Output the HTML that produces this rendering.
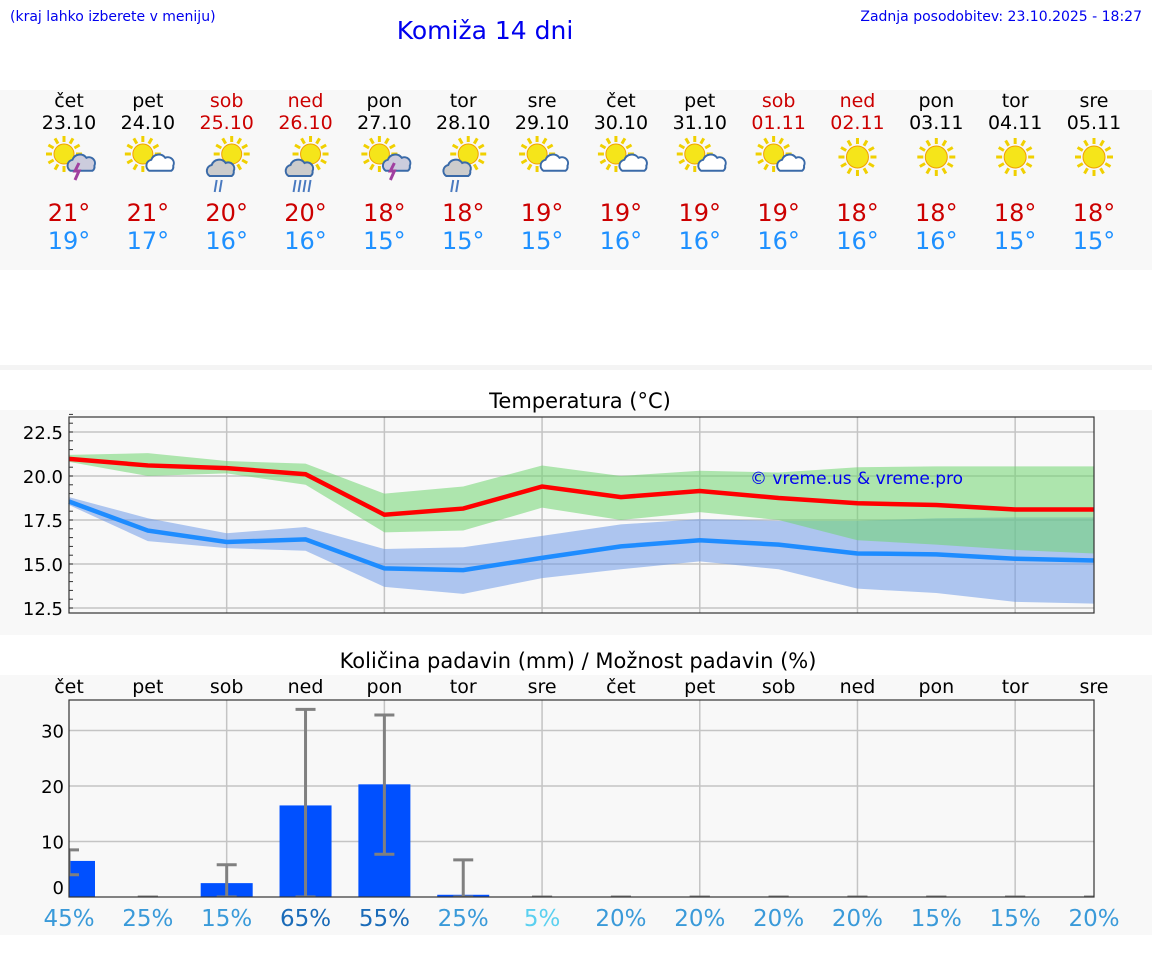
<!DOCTYPE html>
<html><head><meta charset="utf-8">
<style>
body{margin:0;background:#fff;font-family:"DejaVu Sans","Liberation Sans",sans-serif;}
svg{display:block}
</style></head>
<body>
<svg id="root" width="1152" height="975" xmlns="http://www.w3.org/2000/svg" font-family="DejaVu Sans, Liberation Sans, sans-serif">
<rect x="0" y="0" width="1152" height="975" fill="#fff"/>
<text x="10" y="21" font-size="14" fill="#0000ee">(kraj lahko izberete v meniju)</text>
<text x="485" y="39" font-size="25" fill="#0000ee" text-anchor="middle">Komiža 14 dni</text>
<text x="1142" y="21" font-size="14" fill="#0000ee" text-anchor="end">Zadnja posodobitev: 23.10.2025 - 18:27</text>
<rect x="0" y="90" width="1152" height="180" fill="#f8f8f8"/>
<rect x="0" y="365" width="1152" height="5" fill="#f4f4f4"/>
<rect x="0" y="410" width="1152" height="225" fill="#f8f8f8"/>
<rect x="0" y="675" width="1152" height="260" fill="#f8f8f8"/>
<text x="580" y="408" font-size="21" text-anchor="middle" fill="#000">Temperatura (°C)</text>
<text x="578" y="668" font-size="21" text-anchor="middle" fill="#000">Količina padavin (mm) / Možnost padavin (%)</text>
<g id="summary"></g>
<g id="temp"></g>
<g id="prec"></g>
</svg>
<script>
const days=["čet","pet","sob","ned","pon","tor","sre","čet","pet","sob","ned","pon","tor","sre"];
const dates=["23.10","24.10","25.10","26.10","27.10","28.10","29.10","30.10","31.10","01.11","02.11","03.11","04.11","05.11"];
const weekend=[0,0,1,1,0,0,0,0,0,1,1,0,0,0];
const icons=["storm","cloud","rain","rain2","storm","rain","cloud","cloud","cloud","cloud","sun","sun","sun","sun"];
const hiLabels=[21,21,20,20,18,18,19,19,19,19,18,18,18,18];
const loLabels=[19,17,16,16,15,15,15,16,16,16,16,16,15,15];
const tMax=[20.97,20.6,20.45,20.1,17.8,18.15,19.4,18.8,19.15,18.75,18.45,18.35,18.1,18.1];
const tMaxHi=[21.2,21.3,20.85,20.7,19.0,19.4,20.6,20.0,20.3,20.2,20.5,20.55,20.55,20.55];
const tMaxLo=[20.8,20.0,20.15,19.5,16.8,16.9,18.2,17.5,17.95,17.5,16.35,16.1,15.8,15.6];
const tMin=[18.55,16.9,16.25,16.4,14.75,14.65,15.35,16.0,16.35,16.1,15.6,15.55,15.3,15.2];
const tMinHi=[18.8,17.6,16.75,17.1,15.85,15.95,16.6,17.25,17.55,17.45,17.45,17.6,17.65,17.65];
const tMinLo=[18.35,16.3,15.9,15.75,13.7,13.3,14.2,14.7,15.15,14.7,13.6,13.35,12.85,12.75];
const tTicks=[12.5,15.0,17.5,20.0,22.5];
const precip=[6.5,0,2.5,16.5,20.3,0.4,0,0,0,0,0,0,0,0];
const errLo=[4,0,0,0,7.7,0,0,0,0,0,0,0,0,0];
const errHi=[8.5,0,5.8,33.8,32.8,6.7,0,0,0,0,0,0,0,0];
const chance=[45,25,15,65,55,25,5,20,20,20,20,15,15,20];
const pTicks=[0,10,20,30];

const NS="http://www.w3.org/2000/svg";
function mk(parent,tag,attrs,text){const e=document.createElementNS(NS,tag);for(const k in attrs)e.setAttribute(k,attrs[k]);if(text!==undefined)e.textContent=text;parent.appendChild(e);return e;}
const X0=69,X1=1094;
const xAt=i=>X0+(X1-X0)*i/13;
const sg=document.getElementById('summary');
function sun(g,cx,cy,r){for(let a=0;a<12;a++){const t=a*Math.PI/6;mk(g,'line',{x1:cx+Math.cos(t)*(r+2),y1:cy+Math.sin(t)*(r+2),x2:cx+Math.cos(t)*(r+8),y2:cy+Math.sin(t)*(r+8),stroke:'#f0d000','stroke-width':3});}
mk(g,'circle',{cx,cy,r,fill:'#f5e51a',stroke:'#f0a000','stroke-width':1});}
function cloud(g,cx,cy,s,fill){mk(g,'path',{d:`M${cx-12*s} ${cy+6*s} a6 6 0 0 1 2 -11 a8 8 0 0 1 14 -2 a6 6 0 0 1 8 8 a5 5 0 0 1 -2 5 z`,fill,stroke:'#3a6aa8','stroke-width':2});}
days.forEach((d,i)=>{
 const x=xAt(i);const col=weekend[i]?'#cc0000':'#000';
 const t1=mk(sg,'text',{x,y:107,'font-size':19,'text-anchor':'middle',fill:col},d);
 
 const t2=mk(sg,'text',{x,y:129,'font-size':19,'text-anchor':'middle',fill:col},dates[i]);
 
 const g=mk(sg,'g',{});
 const ic=icons[i];
 if(ic==='sun'){sun(g,x,157,11);}
 else if(ic==='cloud'){sun(g,x-5,154,10);cloud(g,x+11,166,0.8,'#fff');}
 else if(ic==='storm'){sun(g,x-5,154,10);cloud(g,x+11,166,0.8,'#ccd');mk(g,'path',{d:`M${x+10} ${163} l-4 8 h4 l-4 9`,stroke:'#a040a0','stroke-width':3,fill:'none'});}
 else {sun(g,x+5,154,10);cloud(g,x-5,170,1,'#ccc');const n=ic==='rain2'?4:2;for(let k=0;k<n;k++)mk(g,'line',{x1:x-10+k*5,y1:180,x2:x-12+k*5,y2:192,stroke:'#4a7ac0','stroke-width':2});}
 const h=mk(sg,'text',{x,y:221,'font-size':24,'text-anchor':'middle',fill:'#cc0000'},hiLabels[i]+'°');
 
 const l=mk(sg,'text',{x,y:249,'font-size':24,'text-anchor':'middle',fill:'#1e90ff'},loLabels[i]+'°');
 
});
const tg=document.getElementById('temp');
const TY0=417,TY1=613;
const tY=v=>476-(v-20)*(44/2.5);
mk(tg,'rect',{x:X0,y:TY0,width:X1-X0,height:TY1-TY0,fill:'#f8f8f8'});
for(let i=2;i<14;i+=2)mk(tg,'line',{x1:xAt(i),y1:TY0,x2:xAt(i),y2:TY1,stroke:'#c4c4c4','stroke-width':1.5});
tTicks.forEach(v=>{mk(tg,'line',{x1:X0,y1:tY(v),x2:X1,y2:tY(v),stroke:'#c4c4c4','stroke-width':1.5});
 const t=mk(tg,'text',{x:63,y:tY(v)+7,'font-size':18,'text-anchor':'end',fill:'#000'},v.toFixed(1));
 });
for(let v=12.5;v<=23.5;v+=0.5)mk(tg,'line',{x1:X0,y1:tY(v),x2:X0+4,y2:tY(v),stroke:'#333','stroke-width':1});
function band(hi,lo,fill,name){let d='';hi.forEach((v,i)=>d+=(i?'L':'M')+xAt(i)+' '+tY(v));for(let i=lo.length-1;i>=0;i--)d+='L'+xAt(i)+' '+tY(lo[i]);
 const p=mk(tg,'path',{d:d+'Z',fill,'fill-opacity':0.55});}
band(tMinHi,tMinLo,'#6f9ae8','min-temp-range');
band(tMaxHi,tMaxLo,'#6fd66f','max-temp-range');
function line(vals,col,name){const p=mk(tg,'polyline',{points:vals.map((v,i)=>xAt(i)+','+tY(v)).join(' '),fill:'none',stroke:col,'stroke-width':4.5});}
line(tMax,'#ff0000','max-temp-line');
line(tMin,'#1e8cff','min-temp-line');
const wm=mk(tg,'text',{x:750,y:484,'font-size':17,fill:'#0000ee'},'© vreme.us & vreme.pro');

mk(tg,'rect',{x:X0,y:TY0,width:X1-X0,height:TY1-TY0,fill:'none',stroke:'#333','stroke-width':1.2});
const pg=document.getElementById('prec');
const PY0=700,PY1=897;
const pY=v=>PY1-v*5.55;
mk(pg,'rect',{x:X0,y:PY0,width:X1-X0,height:PY1-PY0,fill:'#f8f8f8'});
for(let i=2;i<14;i+=2)mk(pg,'line',{x1:xAt(i),y1:PY0,x2:xAt(i),y2:PY1,stroke:'#c4c4c4','stroke-width':1.5});
pTicks.forEach(v=>{if(v>0)mk(pg,'line',{x1:X0,y1:pY(v),x2:X1,y2:pY(v),stroke:'#c4c4c4','stroke-width':1.5});
 const t=mk(pg,'text',{x:64,y:(v?pY(v):887)+7,'font-size':18,'text-anchor':'end',fill:'#000'},v);
 });
days.forEach((d,i)=>{const t=mk(pg,'text',{x:xAt(i),y:693,'font-size':19,'text-anchor':'middle',fill:'#000'},d);
 });
const clip=mk(pg,'clipPath',{id:'pc'});mk(clip,'rect',{x:X0,y:PY0,width:X1-X0,height:PY1-PY0});
const bars=mk(pg,'g',{'clip-path':'url(#pc)'});
precip.forEach((v,i)=>{const x=xAt(i);
 if(v>0){const b=mk(bars,'rect',{x:x-26,y:pY(v),width:52,height:PY1-pY(v),fill:'#0050ff'});}
 const e=mk(bars,'g',{stroke:'#808080','stroke-width':3});
 mk(e,'line',{x1:x,y1:pY(errLo[i]),x2:x,y2:pY(errHi[i])});
 mk(e,'line',{x1:x-10,y1:pY(errHi[i]),x2:x+10,y2:pY(errHi[i])});
 mk(e,'line',{x1:x-10,y1:pY(errLo[i]),x2:x+10,y2:pY(errLo[i])});
});
mk(pg,'rect',{x:X0,y:PY0,width:X1-X0,height:PY1-PY0,fill:'none',stroke:'#333','stroke-width':1.2});
chance.forEach((c,i)=>{const col=c>=50?'#1a6bb8':(c<10?'#5bd0f0':'#3a9ad9');
 const t=mk(pg,'text',{x:xAt(i),y:926,'font-size':23,'text-anchor':'middle',fill:col},c+'%');
 });
</script>
</body></html>
